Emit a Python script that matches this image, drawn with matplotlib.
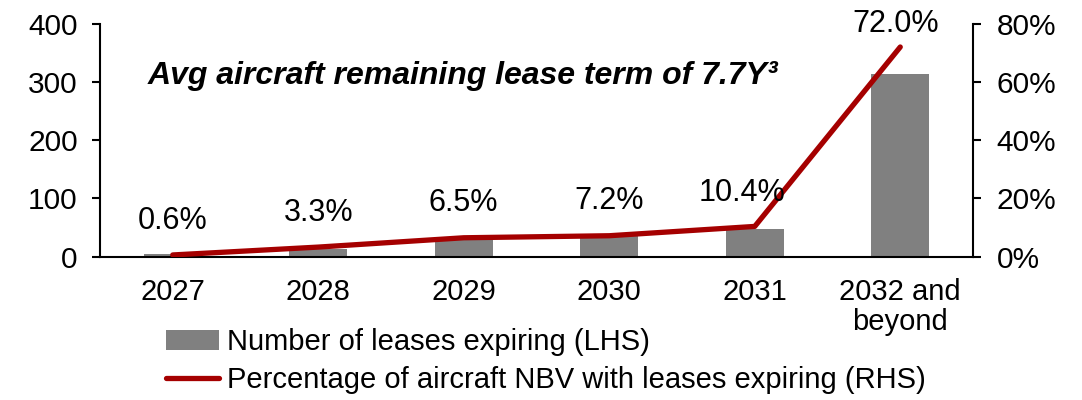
import matplotlib
matplotlib.use("Agg")
import matplotlib.pyplot as plt
import numpy as np

plt.rcParams['font.family'] = ['Liberation Sans', 'DejaVu Sans']

years = ["2027", "2028", "2029", "2030", "2031", "2032 and\nbeyond"]
leases_expiring = [5, 14, 30, 35, 47, 314]
nbv_pct = [0.6, 3.3, 6.5, 7.2, 10.4, 72.0]
pct_labels = ["0.6%", "3.3%", "6.5%", "7.2%", "10.4%", "72.0%"]

bar_color = "#808080"
line_color = "#A50000"

fig = plt.figure(figsize=(10.82, 4.0), dpi=100)
ax = fig.add_axes([100 / 1082, 1 - 256.7 / 400, 873 / 1082, 233 / 400])
ax2 = ax.twinx()

x = np.arange(len(years))
ax.bar(x, leases_expiring, width=0.4, color=bar_color, label="Number of leases expiring (LHS)", zorder=2)
ax2.plot(x, nbv_pct, color=line_color, linewidth=3.8, solid_capstyle="round",
         label="Percentage of aircraft NBV with leases expiring (RHS)", zorder=3)

# labels above the line points
offsets = [(0, 19), (0, 19), (0, 19), (0, 19), (-9, 18), (-3, 11)]
for i, (v, lab) in enumerate(zip(nbv_pct, pct_labels)):
    ax2.annotate(lab, (x[i], v), xytext=offsets[i], textcoords="offset points",
                 ha="center", va="baseline", fontsize=22)

ax.set_xlim(-0.5, len(years) - 0.5)
ax.set_ylim(0, 400)
ax.set_yticks([0, 100, 200, 300, 400])
ax2.set_ylim(0, 80)
ax2.set_yticks([0, 20, 40, 60, 80])
ax2.set_yticklabels([f"{t}%" for t in [0, 20, 40, 60, 80]])
ax.set_xticks(x)
ax.set_xticklabels(years, linespacing=1.1)

for a in (ax, ax2):
    a.spines["top"].set_visible(False)
    for s in a.spines.values():
        s.set_linewidth(1.5)
    a.tick_params(axis="y", labelsize=21.5, length=6, width=1.5, direction="out")
ax.tick_params(axis="x", labelsize=21, length=0, pad=15)
ax.tick_params(axis="y", pad=10)
ax2.tick_params(axis="y", pad=11)
ax.spines["right"].set_visible(False)
ax2.spines["left"].set_visible(False)
ax2.spines["bottom"].set_visible(False)

fig.text(148 / 1082, 1 - 76 / 400, "Avg aircraft remaining lease term of 7.7Y³",
         fontsize=23, fontweight="bold", fontstyle="italic", va="center", ha="left")

h1, l1 = ax.get_legend_handles_labels()
h2, l2 = ax2.get_legend_handles_labels()
fig.legend(h1 + h2, l1 + l2, loc="upper left", bbox_to_anchor=(166 / 1082, 1 - 328 / 400),
           frameon=False, fontsize=21, handlelength=1.8, handletextpad=0.3,
           labelspacing=0.35, borderpad=0, borderaxespad=0)

fig.savefig("out.png", dpi=100)
